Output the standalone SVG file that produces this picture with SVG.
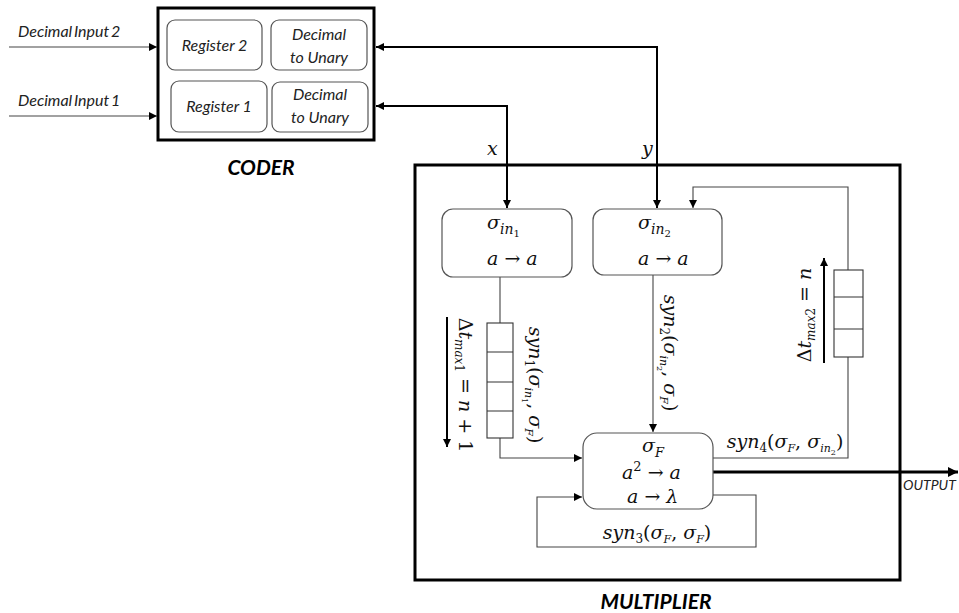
<svg xmlns="http://www.w3.org/2000/svg" width="959" height="613" viewBox="0 0 959 613">
  <defs>
    <style>
      .frame { fill: #fff; stroke: #000; stroke-width: 3; }
      .inner { fill: #fff; stroke: #555; stroke-width: 1.2; }
      .buf { fill: #fff; stroke: #333; stroke-width: 1.1; }
      .thin { fill: none; stroke: #444; stroke-width: 1.1; }
      .bold { fill: none; stroke: #000; stroke-width: 2; }
      .heavy { fill: none; stroke: #000; stroke-width: 3; }
      .lbl { font-family: Lato, "Open Sans", "Liberation Sans", sans-serif; font-style: italic; fill: #222; }
      .title { font-family: Lato, "Open Sans", "Liberation Sans", sans-serif; font-style: italic; font-weight: bold; font-size: 21px; fill: #000; }
      .math { font-family: "DejaVu Serif", "Liberation Serif", serif; font-style: italic; font-size: 19px; fill: #111; }
      .up { font-style: normal; }
    </style>
    <marker id="arr" viewBox="0 0 10 10" refX="10" refY="5" markerWidth="8" markerHeight="8" markerUnits="userSpaceOnUse" orient="auto-start-reverse">
      <path d="M0,0 L10,5 L0,10 z" fill="#000"/>
    </marker>
    <marker id="arrB" viewBox="0 0 10 10" refX="10" refY="5" markerWidth="10" markerHeight="10" markerUnits="userSpaceOnUse" orient="auto-start-reverse">
      <path d="M0,0 L10,5 L0,10 z" fill="#000"/>
    </marker>
  </defs>

  <rect width="959" height="613" fill="#fff"/>

  <!-- CODER block -->
  <g id="coder">
    <rect class="frame" x="158" y="8" width="216" height="132"/>
    <text class="title" x="261" y="175" text-anchor="middle">CODER</text>
  </g>
  <g id="register2">
    <rect class="inner" x="167" y="20" width="95" height="50" rx="8"/>
    <text class="lbl" x="214.5" y="51" font-size="16" text-anchor="middle">Register 2</text>
  </g>
  <g id="dec2unary2">
    <rect class="inner" x="271" y="20" width="96" height="50" rx="8"/>
    <text class="lbl" x="319" y="40" font-size="16" text-anchor="middle">Decimal</text>
    <text class="lbl" x="319" y="63" font-size="16" text-anchor="middle">to Unary</text>
  </g>
  <g id="register1">
    <rect class="inner" x="171" y="81" width="96" height="51" rx="8"/>
    <text class="lbl" x="219" y="112" font-size="16" text-anchor="middle">Register 1</text>
  </g>
  <g id="dec2unary1">
    <rect class="inner" x="272" y="82" width="96" height="50" rx="8"/>
    <text class="lbl" x="320" y="100" font-size="16" text-anchor="middle">Decimal</text>
    <text class="lbl" x="320" y="123" font-size="16" text-anchor="middle">to Unary</text>
  </g>

  <!-- MULTIPLIER block -->
  <g id="multiplier">
    <rect class="frame" x="415" y="165" width="485" height="415" fill="none"/>
    <text class="title" x="656" y="609" font-size="20" text-anchor="middle">MULTIPLIER</text>
  </g>

  <!-- connectors -->
  <g id="connectors">
    <path class="thin" d="M9,47 H157" marker-end="url(#arr)"/>
    <path class="thin" d="M9,116 H157" marker-end="url(#arr)"/>
    <path class="bold" d="M376,106 H507 V208" marker-start="url(#arr)" marker-end="url(#arr)"/>
    <path class="bold" d="M376,47 H657 V208" marker-start="url(#arr)" marker-end="url(#arr)"/>
    <path class="thin" d="M653,275 V432" marker-end="url(#arr)"/>
    <path class="thin" d="M500,277 V458 H582" marker-end="url(#arr)"/>
    <path class="thin" d="M713,458 H848 V187 H693 V208" marker-end="url(#arr)"/>
    <path class="thin" d="M713,495 H756 V547 H537 V497 H582" marker-end="url(#arr)"/>
    <path class="heavy" d="M713,472 H958" marker-end="url(#arrB)"/>
    <path class="bold" d="M447,317 V447" marker-end="url(#arr)"/>
    <path class="bold" d="M824,363 V258" marker-end="url(#arr)"/>
  </g>

  <!-- input / output labels -->
  <text class="lbl" x="18" y="37" font-size="16" word-spacing="-2" fill="#111">Decimal Input 2</text>
  <text class="lbl" x="18" y="106" font-size="16" word-spacing="-2" fill="#111">Decimal Input 1</text>
  <text class="math" x="487" y="155">x</text>
  <text class="math" x="642" y="155">y</text>
  <text class="lbl" x="903" y="490" font-size="14">OUTPUT</text>

  <!-- delay buffers -->
  <g id="buffer1">
    <rect class="buf" x="487" y="323" width="26" height="115"/>
    <path class="buf" d="M487,352 H513 M487,382 H513 M487,411 H513"/>
  </g>
  <g id="buffer2">
    <rect class="buf" x="834" y="270" width="29" height="87"/>
    <path class="buf" d="M834,297 H863 M834,329 H863"/>
  </g>

  <!-- neurons -->
  <g id="sigma-in1">
    <rect class="inner" x="442" y="209" width="130" height="68" rx="11"/>
    <text class="math" x="487" y="229">σ<tspan font-size="14" dy="5">in</tspan><tspan font-size="10" font-style="normal" dy="3">1</tspan></text>
    <text class="math" x="487" y="265">a <tspan class="up">→</tspan> a</text>
  </g>
  <g id="sigma-in2">
    <rect class="inner" x="593" y="209" width="129" height="66" rx="11"/>
    <text class="math" x="638" y="229">σ<tspan font-size="14" dy="5">in</tspan><tspan font-size="10" font-style="normal" dy="3">2</tspan></text>
    <text class="math" x="638" y="265">a <tspan class="up">→</tspan> a</text>
  </g>
  <g id="sigma-F">
    <rect class="inner" x="583" y="433" width="130" height="76" rx="14"/>
    <text class="math" x="642" y="452">σ<tspan font-size="13" dy="5">F</tspan></text>
    <text class="math" x="622" y="479">a<tspan font-size="13" font-style="normal" dy="-8">2</tspan><tspan dy="8" class="up"> → </tspan>a</text>
    <text class="math" x="627" y="503">a <tspan class="up">→</tspan> λ</text>
  </g>

  <!-- synapse labels -->
  <text class="math" font-size="17" transform="translate(529,385) rotate(90)" text-anchor="middle">syn<tspan font-size="12" font-style="normal" dy="4">1</tspan><tspan dy="-4" class="up">(</tspan>σ<tspan font-size="11" dy="4">in</tspan><tspan font-size="8" font-style="normal" dy="3">1</tspan><tspan dy="-7" class="up">, </tspan>σ<tspan font-size="11" dy="4">F</tspan><tspan dy="-4" class="up">)</tspan></text>
  <text class="math" font-size="17" transform="translate(664,353) rotate(90)" text-anchor="middle">syn<tspan font-size="12" font-style="normal" dy="4">2</tspan><tspan dy="-4" class="up">(</tspan>σ<tspan font-size="11" dy="4">in</tspan><tspan font-size="8" font-style="normal" dy="3">2</tspan><tspan dy="-7" class="up">, </tspan>σ<tspan font-size="11" dy="4">F</tspan><tspan dy="-4" class="up">)</tspan></text>
  <text class="math" font-size="16.5" x="657" y="539" text-anchor="middle">syn<tspan font-size="12" font-style="normal" dy="4">3</tspan><tspan dy="-4" class="up">(</tspan>σ<tspan font-size="11" dy="4">F</tspan><tspan dy="-4" class="up">, </tspan>σ<tspan font-size="11" dy="4">F</tspan><tspan dy="-4" class="up">)</tspan></text>
  <text class="math" font-size="17" x="785" y="448" text-anchor="middle">syn<tspan font-size="12" font-style="normal" dy="4">4</tspan><tspan dy="-4" class="up">(</tspan>σ<tspan font-size="11" dy="4">F</tspan><tspan dy="-4" class="up">, </tspan>σ<tspan font-size="11" dy="4">in</tspan><tspan font-size="8" font-style="normal" dy="3">2</tspan><tspan dy="-7" class="up">)</tspan></text>

  <!-- delay bounds -->
  <text class="math" font-size="17" transform="translate(459,385) rotate(90)" text-anchor="middle"><tspan class="up">Δ</tspan>t<tspan font-size="12" dy="4">max</tspan><tspan font-size="12" font-style="normal">1</tspan><tspan dy="-4" class="up"> = </tspan>n<tspan class="up"> + 1</tspan></text>
  <text class="math" font-size="17" transform="translate(811,315) rotate(-90)" text-anchor="middle"><tspan class="up">Δ</tspan>t<tspan font-size="12" dy="4">max</tspan><tspan font-size="12" font-style="normal">2</tspan><tspan dy="-4" class="up"> = </tspan>n</text>
</svg>
